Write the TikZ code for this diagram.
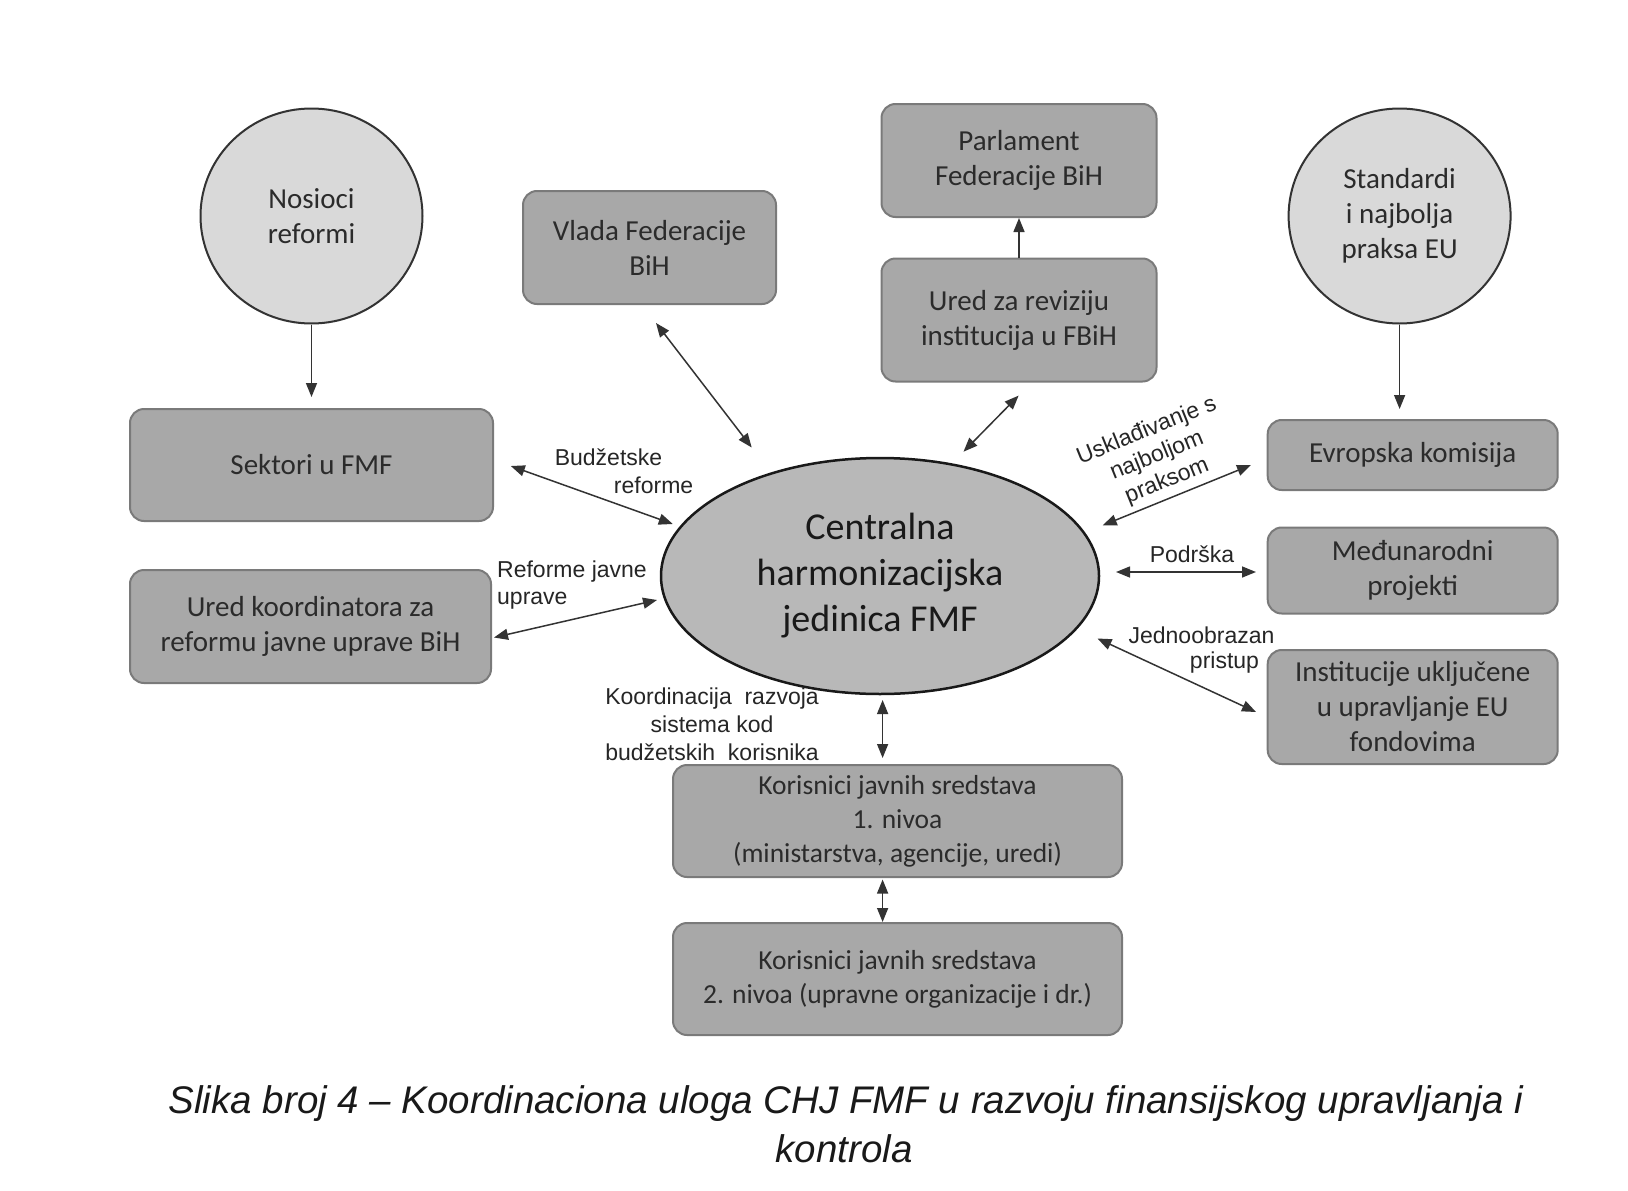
\documentclass[tikz,border=0pt]{standalone}
\usepackage{fontspec}
\setmainfont{Carlito}
\newfontfamily\arialfont{Liberation Sans}
\usetikzlibrary{arrows.meta,shapes.geometric,calc}
\definecolor{boxfill}{HTML}{A8A8A8}
\definecolor{boxdraw}{HTML}{7A7A7A}
\definecolor{cenfill}{HTML}{B8B8B8}
\definecolor{circfill}{HTML}{D9D9D9}
\definecolor{txt}{HTML}{2B2B2B}
\tikzset{
  gbox/.style={draw=boxdraw,fill=boxfill,line width=2pt,rounded corners=14pt,
    align=center,text=txt,inner sep=0pt,font=\fontsize{29}{35}\selectfont},
  circ/.style={ellipse,draw=black!80,fill=circfill,line width=2pt,align=center,
    text=txt,inner sep=0pt,font=\fontsize{29}{35}\selectfont},
  lbl/.style={align=center,text=black!85,inner sep=0pt,font=\arialfont\fontsize{23}{28}\selectfont},
  one/.style={-{Triangle[length=14pt,width=11pt]},line width=1.5pt,draw=black!80},
  two/.style={{Triangle[length=14pt,width=11pt]}-{Triangle[length=14pt,width=11pt]},line width=1.5pt,draw=black!80}
}
\begin{document}
\begin{tikzpicture}[x=1pt,y=-1pt]
\useasboundingbox[fill=white] (0,0) rectangle (1628,1191);
% nodes
\node[circ,minimum width=222pt,minimum height=215pt] (nos) at (311.5,216) {Nosioci\\reformi};
\node[circ,minimum width=222pt,minimum height=215pt] (std) at (1399.6,216) {Standardi\\i najbolja\\praksa EU};
\node[gbox,minimum width=253pt,minimum height=113pt] (vlada) at (649.5,247.5) {Vlada Federacije\\BiH};
\node[gbox,minimum width=275pt,minimum height=113pt] (par) at (1019,160.5) {Parlament\\Federacije BiH};
\node[gbox,minimum width=275pt,minimum height=123pt] (rev) at (1019,320) {Ured za reviziju\\institucija u FBiH};
\node[gbox,minimum width=363pt,minimum height=112pt] (sek) at (311.5,465) {Sektori u FMF};
\node[gbox,minimum width=361pt,minimum height=113pt] (urk) at (310.5,626.5) {Ured koordinatora za\\reformu javne uprave BiH};
\node[ellipse,draw=black!90,fill=cenfill,line width=2.5pt,minimum width=438pt,minimum height=236pt,
  align=center,text=black!90,inner sep=0pt,font=\fontsize{38}{46}\selectfont] (cen) at (880,576)
  {Centralna\\harmonizacijska\\jedinica FMF};
\node[gbox,minimum width=290pt,minimum height=70pt] (evr) at (1412.7,455) {Evropska komisija};
\node[gbox,minimum width=290pt,minimum height=86pt] (med) at (1412.7,570.5) {Međunarodni\\projekti};
\node[gbox,minimum width=290pt,minimum height=114pt] (ins) at (1412.7,707) {Institucije uključene\\u upravljanje EU\\fondovima};
\node[gbox,minimum width=449pt,minimum height=112pt,font=\fontsize{27.5}{34}\selectfont] (kor1) at (897.5,821)
  {Korisnici javnih sredstava\\1. nivoa\\(ministarstva, agencije, uredi)};
\node[gbox,minimum width=449pt,minimum height=112pt,font=\fontsize{27.5}{34}\selectfont] (kor2) at (897.5,979)
  {Korisnici javnih sredstava\\2. nivoa (upravne organizacije i dr.)};
% labels
\node[lbl] (l1a) at (608.5,457) {Budžetske};
\node[lbl] (l1b) at (653.6,485) {reforme};
\node[lbl,anchor=west] (l2a) at (497,572) {Reforme javne};
\node[lbl,anchor=west] (l2b) at (497,601) {uprave};
\node[lbl,rotate=22,font=\arialfont\fontsize{23}{27}\selectfont] (l3) at (1157,456) {Usklađivanje s\\najboljom\\praksom};
\node[lbl] (l4) at (1192,554) {Podrška};
\node[lbl] (l5a) at (1201.5,635) {Jednoobrazan};
\node[lbl] (l5b) at (1224.5,663) {pristup};
\node[lbl] (l6) at (712,724) {Koordinacija\ \ razvoja\\sistema kod\\budžetskih\ \ korisnika};
% connectors
\draw[one,shorten >=11pt] (nos.south) -- (sek.north);
\draw[one,shorten >=10pt] (std.south) -- (std.south |- evr.north);
\draw[one] (rev.north) -- (par.south);
\draw[two] ($(vlada)+(6.5,75.5)$) -- ($(cen)+(-128.3,-128.5)$);
\draw[two] ($(rev)+(-0.4,75.6)$) -- ($(cen)+(83.5,-124.3)$);
\draw[two] ($(sek)+(199.3,1)$) -- ($(cen)+(-207.2,-52)$);
\draw[two] ($(urk)+(183.5,11)$) -- ($(cen)+(-223,24)$);
\draw[two] ($(evr)+(-161.7,10)$) -- ($(cen)+(222.7,-50.6)$);
\draw[two] ($(cen)+(236,-4)$) -- ($(med)+(-156.7,1.5)$);
\draw[two] ($(cen)+(217.5,62.5)$) -- ($(ins)+(-156.7,5)$);
\draw[two] ($(cen)+(2.6,124)$) -- ($(kor1)+(-14.9,-63)$);
\draw[two] ($(kor1)+(-14.9,58.5)$) -- ($(kor2)+(-14.9,-57)$);
% caption
\node[font=\arialfont\itshape\fontsize{38.5}{44}\selectfont,text=black!90,inner sep=0pt] (cap1) at (846,1104)
  {Slika broj 4 – Koordinaciona uloga CHJ FMF u razvoju finansijskog upravljanja i};
\node[font=\arialfont\itshape\fontsize{38.5}{44}\selectfont,text=black!90,inner sep=0pt] (cap2) at (844,1149) {kontrola};
\end{tikzpicture}
\end{document}
